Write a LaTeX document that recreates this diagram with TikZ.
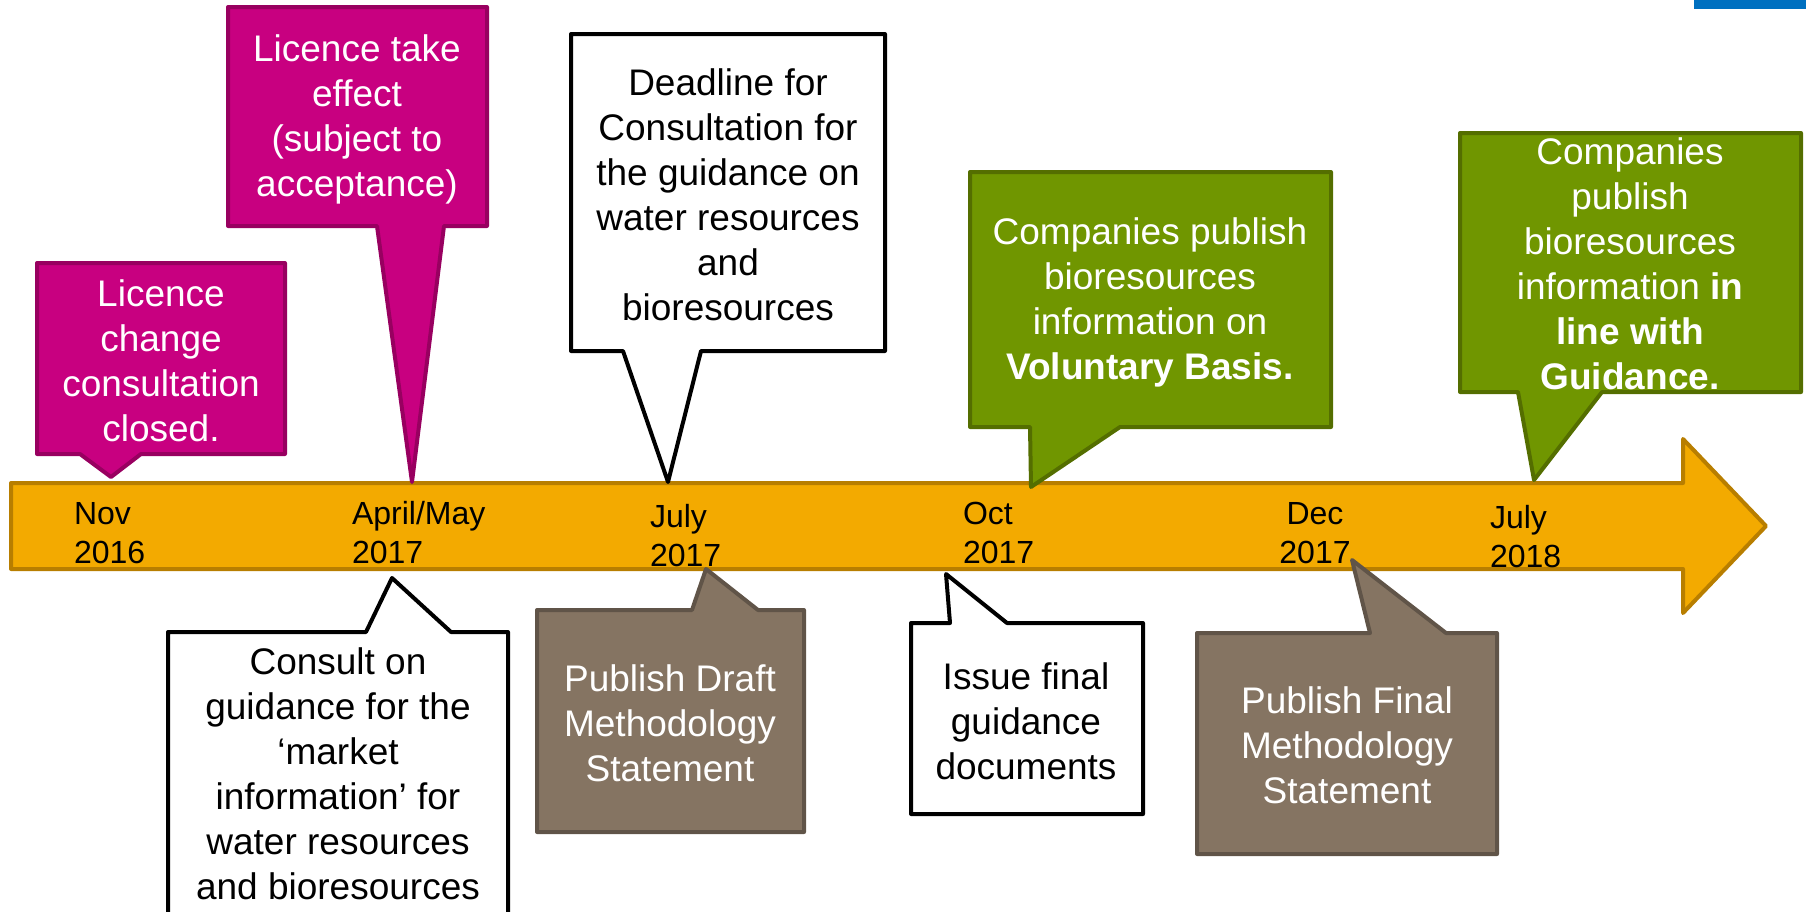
\documentclass[tikz,border=0pt]{standalone}
\usepackage{fontspec}
\setmainfont{Liberation Sans}

\definecolor{pinkfill}{RGB}{200,0,128}
\definecolor{pinkline}{RGB}{152,0,96}
\definecolor{greenfill}{RGB}{112,150,0}
\definecolor{greenline}{RGB}{84,110,0}
\definecolor{brownfill}{RGB}{133,116,98}
\definecolor{brownline}{RGB}{96,84,72}
\definecolor{barfill}{RGB}{243,170,0}
\definecolor{barline}{RGB}{184,126,0}
\definecolor{cornerblue}{RGB}{0,112,192}

\begin{document}
\begin{tikzpicture}[x = 1pt, y = -1pt, line width = 4pt, line join = round,
                        pinkbox/.style = {draw = pinkline, fill = pinkfill},
                        greenbox/.style = {draw = greenline, fill = greenfill},
                        brownbox/.style = {draw = brownline, fill = brownfill},
                        plainbox/.style = {draw = black, fill = white},
                        note/.style = {font = \fontsize{37}{45}\selectfont, align = center, inner sep = 0},
                        monthtext/.style = {font = \fontsize{32}{39}\selectfont, align = left, anchor = west, inner sep = 0}]
      \useasboundingbox (0, 0) rectangle (1806, 911);
      \fill [cornerblue] (1694, 0) rectangle (1806, 9);

      % time line
      \draw [draw = barline, fill = barfill] (11, 483) -- (1683, 483) -- (1683, 439) -- (1766, 526)
            -- (1683, 613) -- (1683, 569) -- (11, 569) -- cycle;
      \node [monthtext] (nov) at (72, 533){Nov\\2016};
      \node [monthtext] (aprmay) at (350, 533){April/May\\2017};
      \node [monthtext] (jul17) at (648, 536){July\\2017};
      \node [monthtext] (oct) at (961, 533){Oct\\2017};
      \node [monthtext, align = center, anchor = center] (dec) at (1315, 533){Dec\\2017};
      \node [monthtext] (jul18) at (1488, 537){July\\2018};

      % above the line
      \draw [pinkbox] (37, 263) -- (285, 263) -- (285, 454) -- (141, 454) -- (111, 477)
            -- (80, 454) -- (37, 454) -- cycle;
      \node [note, white] (closed) at (161, 361){Licence\\change\\consultation\\closed.};

      \draw [pinkbox] (228, 7) -- (487, 7) -- (487, 226) -- (444, 226) -- (412, 482)
            -- (377, 226) -- (228, 226) -- cycle;
      \node [note, white] (effect) at (357, 119){Licence take\\effect\\(subject to\\acceptance)};

      \draw [plainbox] (571, 34) -- (885, 34) -- (885, 351) -- (701, 351) -- (668, 482)
            -- (623, 351) -- (571, 351) -- cycle;
      \node [note] (deadline) at (728, 195){Deadline for\\Consultation for\\the guidance on\\water resources\\and\\bioresources};

      \draw [greenbox] (970, 172) -- (1331, 172) -- (1331, 427) -- (1120, 427) -- (1031, 487)
            -- (1030, 427) -- (970, 427) -- cycle;
      \node [note, white] (voluntary) at (1150, 302){Companies publish\\bioresources\\information on\\\textbf{Voluntary Basis.}};

      \draw [greenbox] (1460, 133) -- (1801, 133) -- (1801, 392) -- (1602, 392) -- (1534, 480)
            -- (1518, 392) -- (1460, 392) -- cycle;
      \node [note, white] (guidance) at (1630, 264){Companies\\publish\\bioresources\\information \textbf{in}\\\textbf{line with}\\\textbf{Guidance.}};

      % below the line
      \draw [plainbox] (168, 915) -- (168, 632) -- (366, 632) -- (392, 578) -- (451, 632)
            -- (508, 632) -- (508, 915);
      \node [note] (consult) at (338, 774){Consult on\\guidance for the\\‘market\\information’ for\\water resources\\and bioresources};

      \draw [brownbox] (537, 610) -- (692, 610) -- (706, 569) -- (758, 610) -- (804, 610)
            -- (804, 832) -- (537, 832) -- cycle;
      \node [note, white] (draft) at (670, 723){Publish Draft\\Methodology\\Statement};

      \draw [plainbox] (911, 623) -- (950, 623) -- (946, 574) -- (1007, 623) -- (1143, 623)
            -- (1143, 814) -- (911, 814) -- cycle;
      \node [note] (issue) at (1026, 721){Issue final\\guidance\\documents};

      \draw [brownbox] (1197, 633) -- (1370, 633) -- (1352, 560) -- (1446, 633) -- (1497, 633)
            -- (1497, 854) -- (1197, 854) -- cycle;
      \node [note, white] (final) at (1347, 745){Publish Final\\Methodology\\Statement};
    \end{tikzpicture}
\end{document}
